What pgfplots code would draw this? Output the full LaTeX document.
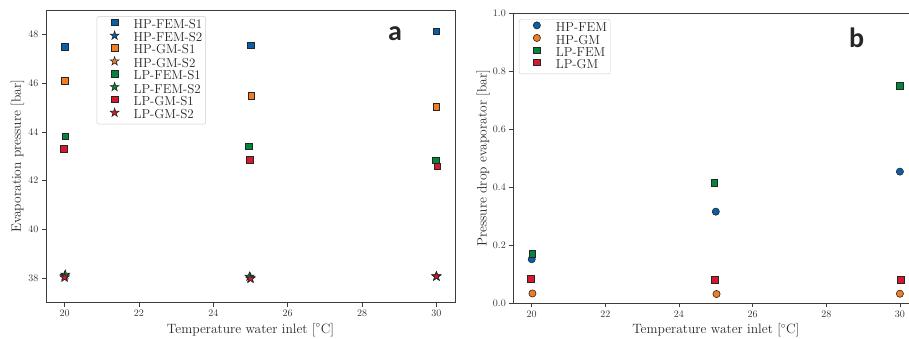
\documentclass[border=0pt]{standalone}
\usepackage{fontspec}
\usepackage{pgfplots}
\pgfplotsset{compat=1.18}
\newfontfamily\labfont{Carlito}
\definecolor{cblue}{RGB}{10,95,170}
\definecolor{corange}{RGB}{242,125,35}
\definecolor{cgreen}{RGB}{0,135,60}
\definecolor{cred}{RGB}{215,25,45}
\definecolor{spine}{RGB}{60,60,60}
\pgfdeclareplotmark{fstar}{%
 \pgfpathmoveto{\pgfqpointpolar{90}{\pgfplotmarksize}}%
 \pgfpathlineto{\pgfqpointpolar{126}{0.382\pgfplotmarksize}}%
 \pgfpathlineto{\pgfqpointpolar{162}{\pgfplotmarksize}}%
 \pgfpathlineto{\pgfqpointpolar{198}{0.382\pgfplotmarksize}}%
 \pgfpathlineto{\pgfqpointpolar{234}{\pgfplotmarksize}}%
 \pgfpathlineto{\pgfqpointpolar{270}{0.382\pgfplotmarksize}}%
 \pgfpathlineto{\pgfqpointpolar{306}{\pgfplotmarksize}}%
 \pgfpathlineto{\pgfqpointpolar{342}{0.382\pgfplotmarksize}}%
 \pgfpathlineto{\pgfqpointpolar{18}{\pgfplotmarksize}}%
 \pgfpathlineto{\pgfqpointpolar{54}{0.382\pgfplotmarksize}}%
 \pgfpathclose\pgfusepathqfillstroke}
\newcommand{\labfs}{\fontsize{13.5}{13.5}\selectfont}
\pgfplotsset{
  myax/.style={scale only axis, axis line style={spine, line width=0.8pt},
    tick align=outside, xtick pos=bottom, ytick pos=left, major tick length=4pt,
    tick style={spine, line width=0.7pt},
    ticklabel style={font=\fontsize{10}{10}\selectfont, text=black!80},
    xtick={20,22,...,30}, xmin=19.5, xmax=30.5,
    xlabel={Temperature water inlet [$^\circ$C]},
    every axis x label/.style={at={(axis description cs:0.5,0)}, yshift=-27pt, anchor=center, font=\labfs, text=black!85},
    legend cell align=left,
    legend style={anchor=north west, draw=black!20, rounded corners=2pt, inner sep=2.5pt,
      font=\fontsize{13}{13}\selectfont, text=black!85,
      nodes={inner sep=0.8pt, text height=7.3pt, text depth=2pt}, row sep=0pt},
  },
  mk/.style={only marks, mark=#1, mark options={draw=black!85, line width=0.6pt},
    legend image code/.code={\path (0pt,0pt) (33pt,0pt);
      \path[##1] plot coordinates {(15pt,3.5pt)};}},
}
\begin{document}
\begin{tikzpicture}[x=1pt,y=1pt]
\useasboundingbox (0,0) rectangle (909,339);
% ---------- panel a ----------
\begin{axis}[myax, at={(46pt,36.3pt)}, anchor=south west, width=409pt, height=292.7pt,
  ymin=37, ymax=49, ytick={38,40,...,48},
  ylabel={Evaporation pressure [bar]},
  every axis y label/.style={at={(axis description cs:0,0.5)}, xshift=-28.5pt, rotate=90, anchor=center, font=\labfs, text=black!85},
  legend style={at={(0.124,0.979)}}]
\addplot[mk=square*, mark size=3.3pt, fill=cblue] coordinates {(20,47.48) (25,47.56) (30,48.12)};
\addlegendentry{HP-FEM-S1}
\addplot[mk=fstar, mark size=4.5pt, fill=cblue] coordinates {(20,38.10) (25,38.03) (30,38.08)};
\addlegendentry{HP-FEM-S2}
\addplot[mk=square*, mark size=3.3pt, fill=corange] coordinates {(20,46.10) (25.02,45.49) (30,45.02)};
\addlegendentry{HP-GM-S1}
\addplot[mk=fstar, mark size=4.5pt, fill=corange] coordinates {(20,38.05) (25,38.00) (30,38.08)};
\addlegendentry{HP-GM-S2}
\addplot[mk=square*, mark size=3.3pt, fill=cgreen] coordinates {(20.02,43.83) (24.95,43.42) (29.98,42.84)};
\addlegendentry{LP-FEM-S1}
\addplot[mk=fstar, mark size=4.5pt, fill=cgreen] coordinates {(20.02,38.15) (24.97,38.07) (30,38.08)};
\addlegendentry{LP-FEM-S2}
\addplot[mk=square*, mark size=3.3pt, fill=cred] coordinates {(19.98,43.32) (24.98,42.86) (30.02,42.60)};
\addlegendentry{LP-GM-S1}
\addplot[mk=fstar, mark size=4.5pt, fill=cred] coordinates {(20,38.03) (25,37.98) (30,38.08)};
\addlegendentry{LP-GM-S2}
\end{axis}
% ---------- panel b ----------
\begin{axis}[myax, at={(513.3pt,35.7pt)}, anchor=south west, width=405pt, height=290pt,
  ymin=0, ymax=1, ytick={0,0.2,0.4,0.6,0.8,1.0},
  yticklabel style={/pgf/number format/fixed, /pgf/number format/fixed zerofill, /pgf/number format/precision=1},
  ylabel={Pressure drop evaporator [bar]},
  every axis y label/.style={at={(axis description cs:0,0.5)}, xshift=-30pt, rotate=90, anchor=center, font=\labfs, text=black!85},
  legend style={at={(0.014,0.98)}}]
\addplot[mk=*, mark size=3.6pt, fill=cblue] coordinates {(20,0.152) (25,0.316) (30,0.454)};
\addlegendentry{HP-FEM}
\addplot[mk=*, mark size=3.6pt, fill=corange] coordinates {(20.02,0.034) (25.02,0.032) (30,0.033)};
\addlegendentry{HP-GM}
\addplot[mk=square*, mark size=3.3pt, fill=cgreen] coordinates {(20.02,0.170) (24.96,0.415) (30,0.749)};
\addlegendentry{LP-FEM}
\addplot[mk=square*, mark size=3.3pt, fill=cred] coordinates {(19.98,0.084) (24.98,0.082) (30.02,0.080)};
\addlegendentry{LP-GM}
\end{axis}
\node[font=\labfont\bfseries\fontsize{28}{28}\selectfont, text=black!85] at (395,305) {a};
\node[font=\labfont\bfseries\fontsize{28}{28}\selectfont, text=black!85] at (856.7,301.3) {b};
\end{tikzpicture}
\end{document}
